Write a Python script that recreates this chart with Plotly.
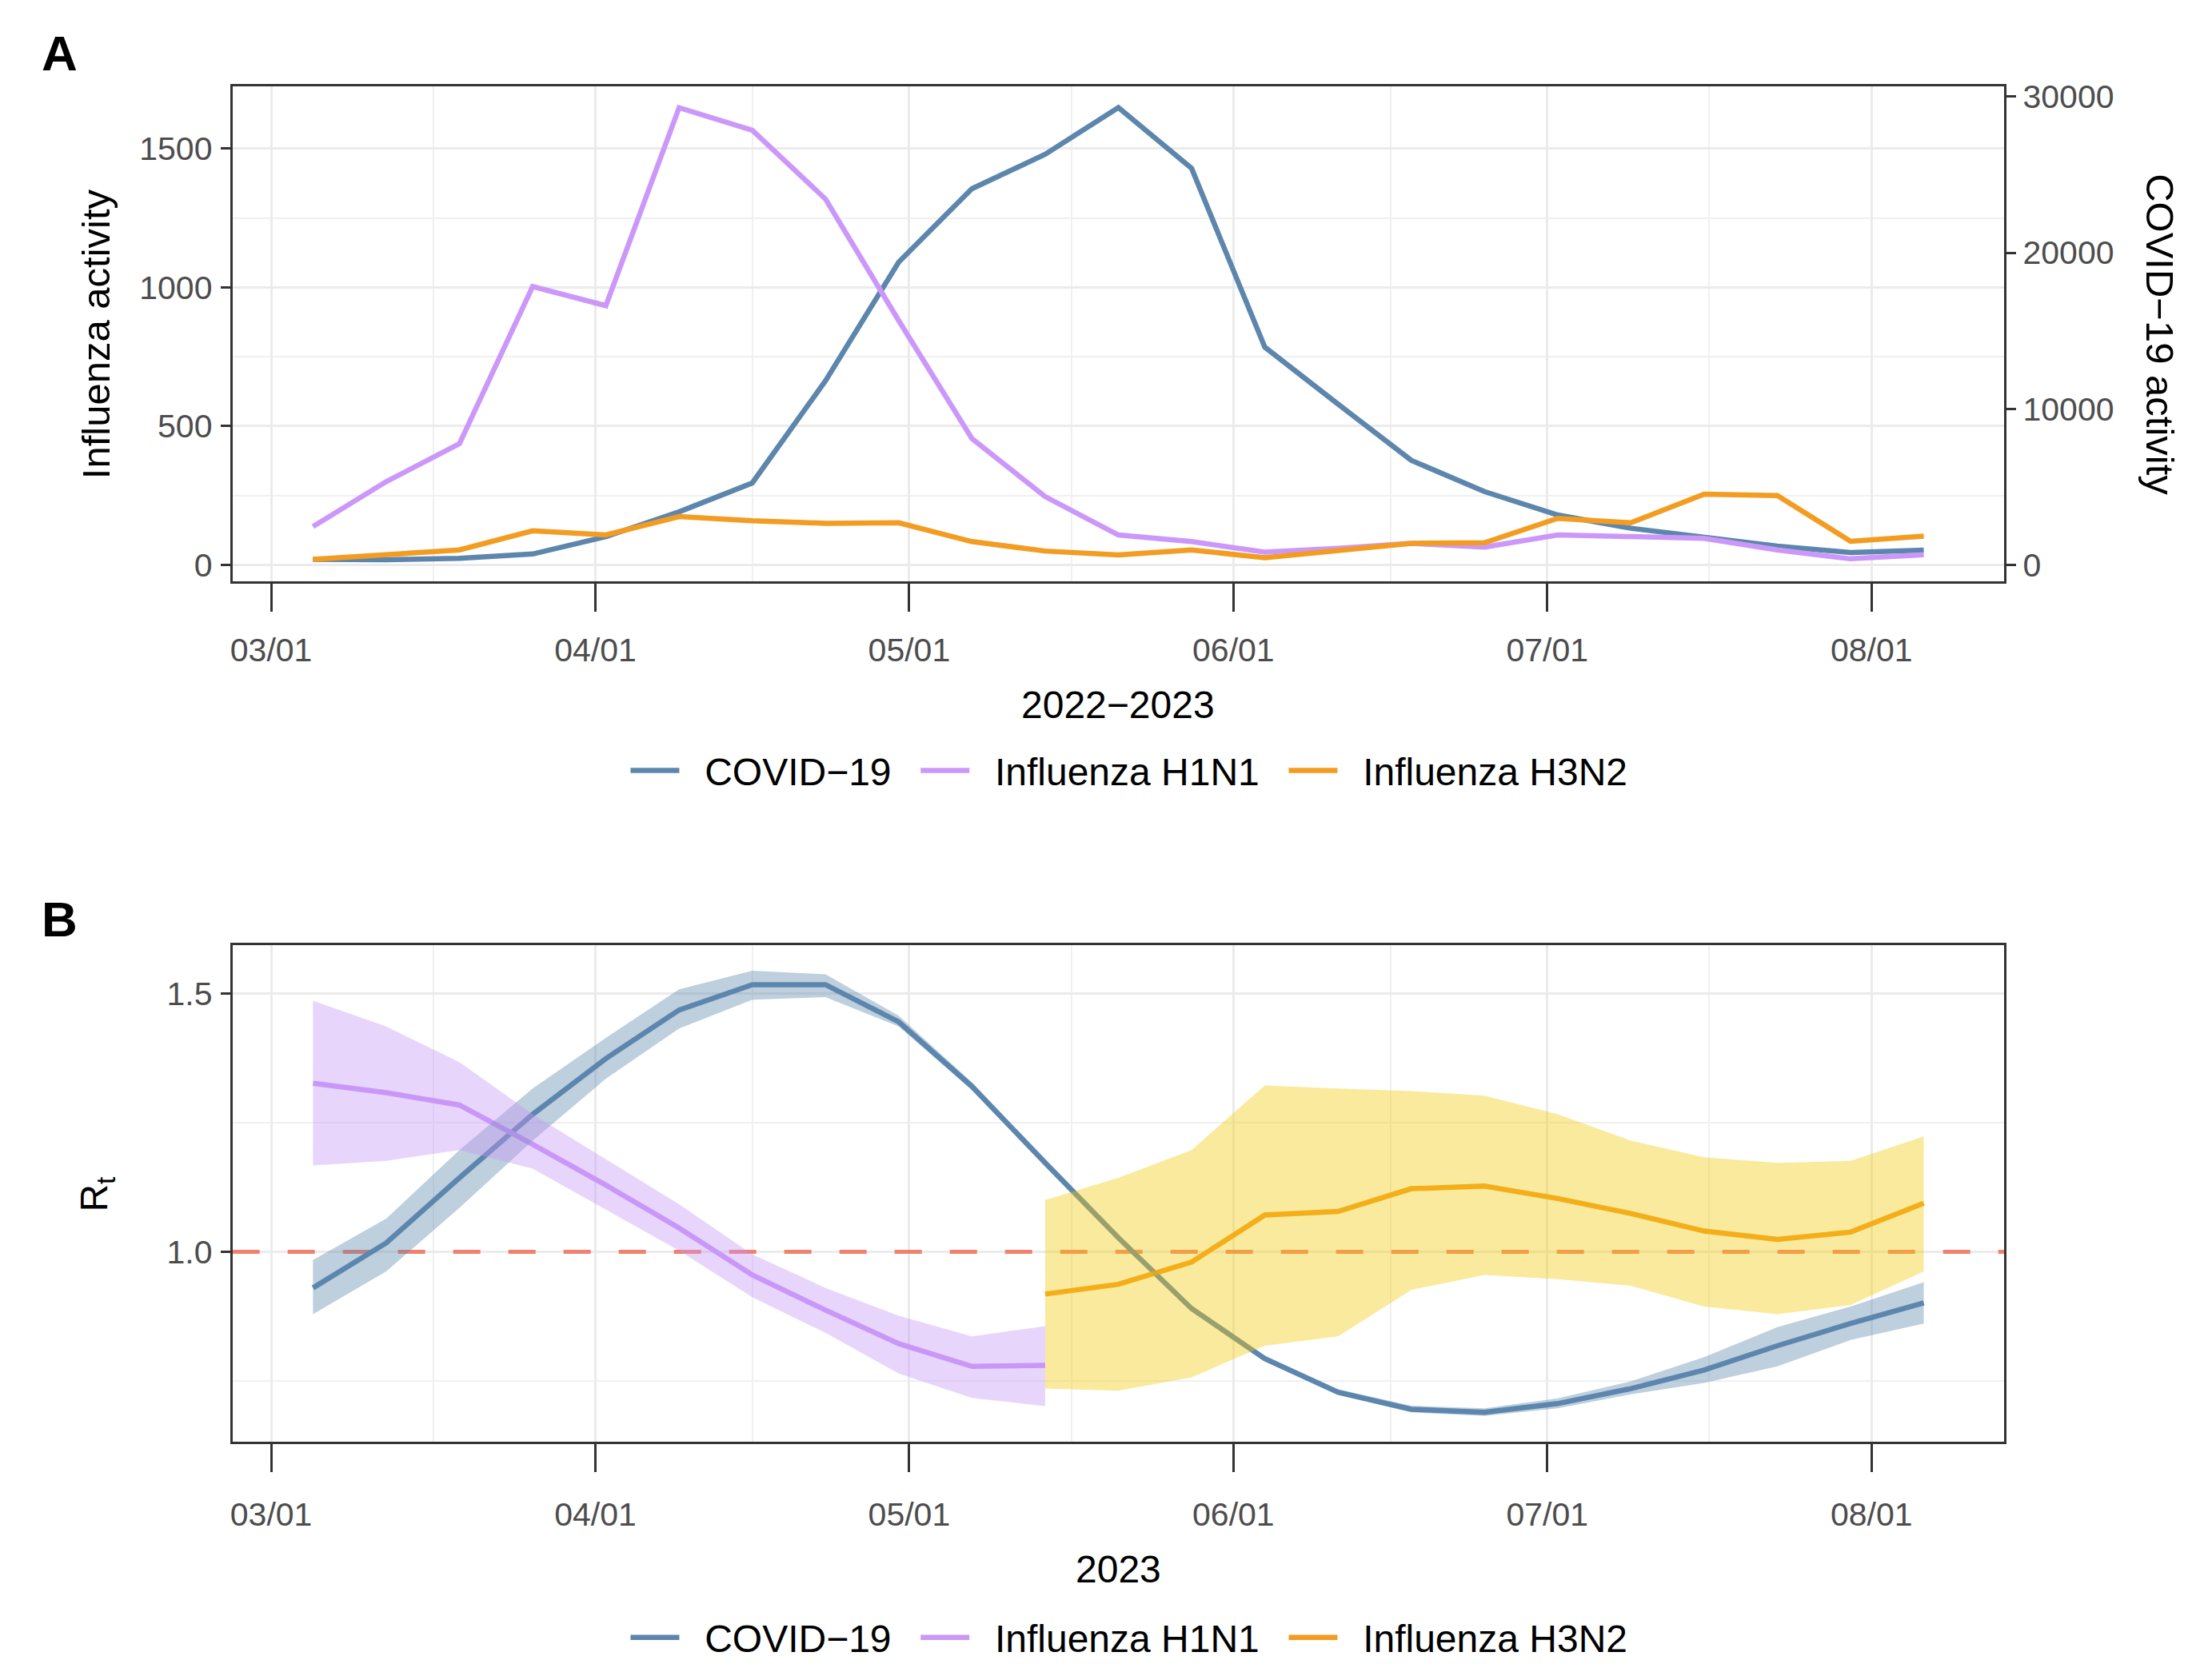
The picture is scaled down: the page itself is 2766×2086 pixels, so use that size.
import pandas as pd
import plotly.graph_objects as go

# ---------------- data ----------------
dates = ["2023-03-05", "2023-03-12", "2023-03-19", "2023-03-26", "2023-04-02",
         "2023-04-09", "2023-04-16", "2023-04-23", "2023-04-30", "2023-05-07",
         "2023-05-14", "2023-05-21", "2023-05-28", "2023-06-04", "2023-06-11",
         "2023-06-18", "2023-06-25", "2023-07-02", "2023-07-09", "2023-07-16",
         "2023-07-23", "2023-07-30", "2023-08-06"]

covid_activity = [360, 330, 420, 700, 1810, 3400, 5250, 11800, 19400, 24100,
                  26300, 29300, 25400, 13950, 10300, 6700, 4700, 3200, 2350,
                  1750, 1200, 800, 950]
h1n1_activity = [138, 300, 437, 1003, 934, 1647, 1566, 1318, 880, 455, 246,
                 108, 84, 46, 60, 78, 64, 108, 102, 96, 54, 22, 37]
h3n2_activity = [20, 36, 54, 123, 108, 174, 159, 150, 152, 84, 50, 36, 54, 26,
                 54, 78, 80, 168, 152, 255, 250, 85, 104]

covid_rt = [0.930, 1.017, 1.143, 1.266, 1.374, 1.468, 1.517, 1.517, 1.445, 1.320,
            1.172, 1.027, 0.890, 0.793, 0.728, 0.695, 0.689, 0.706, 0.735, 0.771,
            0.818, 0.861, 0.901]
covid_rt_lo = [0.879, 0.962, 1.085, 1.215, 1.335, 1.432, 1.488, 1.493, 1.436, 1.313,
               1.165, 1.021, 0.885, 0.788, 0.723, 0.689, 0.682, 0.697, 0.724, 0.746,
               0.778, 0.829, 0.861]
covid_rt_hi = [0.984, 1.064, 1.197, 1.316, 1.414, 1.508, 1.544, 1.537, 1.457, 1.328,
               1.180, 1.034, 0.896, 0.799, 0.734, 0.702, 0.697, 0.716, 0.749, 0.796,
               0.854, 0.894, 0.941]

h1n1_dates = dates[:11]
h1n1_rt = [1.326, 1.308, 1.284, 1.208, 1.129, 1.046, 0.955, 0.887, 0.822, 0.778, 0.780]
h1n1_rt_lo = [1.167, 1.176, 1.197, 1.161, 1.082, 1.002, 0.912, 0.843, 0.764, 0.717, 0.701]
h1n1_rt_hi = [1.486, 1.436, 1.367, 1.266, 1.179, 1.092, 0.995, 0.930, 0.876, 0.836, 0.856]

h3n2_dates = dates[10:]
h3n2_rt = [0.918, 0.937, 0.980, 1.071, 1.078, 1.122, 1.127, 1.103, 1.074, 1.040,
           1.024, 1.038, 1.094]
h3n2_rt_lo = [0.735, 0.731, 0.757, 0.818, 0.836, 0.926, 0.955, 0.947, 0.934, 0.894,
              0.879, 0.897, 0.962]
h3n2_rt_hi = [1.100, 1.143, 1.197, 1.322, 1.316, 1.311, 1.302, 1.266, 1.215, 1.183,
              1.172, 1.176, 1.223]

rt_threshold = 1.0

month_ticks = ["2023-03-01", "2023-04-01", "2023-05-01", "2023-06-01",
               "2023-07-01", "2023-08-01"]
month_labels = ["03/01", "04/01", "05/01", "06/01", "07/01", "08/01"]
infl_ticks = [0, 500, 1000, 1500]
covid_ticks = [0, 10000, 20000, 30000]
rt_ticks = [1.0, 1.5]
series_names = ["COVID\u221219", "Influenza H1N1", "Influenza H3N2"]

# ---------------- style ----------------
W, H = 2766, 2086
FONT = "Liberation Sans, Arial, sans-serif"
C_COVID = "#5D86AD"
C_H1N1 = "#CB98FA"
C_H3N2 = "#F39C22"
F_COVID = "rgba(93,134,173,0.4)"
F_H1N1 = "rgba(197,150,245,0.4)"
F_H3N2 = "rgba(242,202,12,0.4)"
LW = 6.5
NB = "\u00a0\u00a0"

infl_range = [-59.5, 1723]
covid_per_infl = 17.78
covid_range = [v * covid_per_infl for v in infl_range]
x_range = ["2023-02-25 07:12", "2023-08-13 16:48"]
rt_range = [0.632, 1.593]

mt = pd.to_datetime(month_ticks)
minor_x = [str(a + (b - a) / 2) for a, b in zip(mt[:-1], mt[1:])]


def px_x(p):
    return p / W


def px_y(p):
    return 1 - p / H


def leg_name(s):
    return NB + s + NB


xdom = [px_x(288), px_x(2506)]
ydomA = [px_y(725.5), px_y(99.5)]
ydomB = [px_y(1814), px_y(1186)]

fig = go.Figure()

# ---------- Panel A ----------
fig.add_trace(go.Scatter(x=dates, y=covid_activity, mode="lines",
                         name=leg_name(series_names[0]),
                         line=dict(color=C_COVID, width=LW), xaxis="x", yaxis="y",
                         legend="legend"))
fig.add_trace(go.Scatter(x=dates, y=h1n1_activity, mode="lines",
                         name=leg_name(series_names[1]),
                         line=dict(color=C_H1N1, width=LW), xaxis="x", yaxis="y2",
                         legend="legend"))
fig.add_trace(go.Scatter(x=dates, y=h3n2_activity, mode="lines",
                         name=leg_name(series_names[2]),
                         line=dict(color=C_H3N2, width=LW), xaxis="x", yaxis="y2",
                         legend="legend"))

# ---------- Panel B ----------
# reference line Rt = 1 (drawn first so ribbons lie over it)
fig.add_trace(go.Scatter(x=x_range, y=[rt_threshold, rt_threshold], mode="lines",
                         line=dict(color="#F08070", width=5, dash="34px,35px"),
                         hoverinfo="skip", showlegend=False, xaxis="x2", yaxis="y3",
                         cliponaxis=True))

fig.add_trace(go.Scatter(x=dates, y=covid_rt, mode="lines",
                         name=leg_name(series_names[0]),
                         line=dict(color=C_COVID, width=LW), xaxis="x2", yaxis="y3",
                         legend="legend2"))
fig.add_trace(go.Scatter(x=h1n1_dates, y=h1n1_rt, mode="lines",
                         name=leg_name(series_names[1]),
                         line=dict(color=C_H1N1, width=LW), xaxis="x2", yaxis="y3",
                         legend="legend2"))
fig.add_trace(go.Scatter(x=h3n2_dates, y=h3n2_rt, mode="lines",
                         name=leg_name(series_names[2]),
                         line=dict(color=C_H3N2, width=LW), xaxis="x2", yaxis="y3",
                         legend="legend2"))

for d, lo, hi, fc in [(dates, covid_rt_lo, covid_rt_hi, F_COVID),
                      (h1n1_dates, h1n1_rt_lo, h1n1_rt_hi, F_H1N1),
                      (h3n2_dates, h3n2_rt_lo, h3n2_rt_hi, F_H3N2)]:
    fig.add_trace(go.Scatter(x=list(d) + list(d)[::-1], y=list(hi) + list(lo)[::-1],
                             mode="lines", fill="toself", fillcolor=fc,
                             line=dict(width=0, color=fc), hoverinfo="skip",
                             showlegend=False, xaxis="x2", yaxis="y3"))

tickfont = dict(family=FONT, size=41, color="#4D4D4D")
axis_common = dict(showline=True, linewidth=3, linecolor="#333333", zeroline=False,
                   ticks="outside", tickwidth=3, tickcolor="#333333", tickfont=tickfont)
grid_major = dict(showgrid=True, gridcolor="#EBEBEB", gridwidth=3)


def xaxis_def(anchor, standoff):
    return dict(domain=xdom, anchor=anchor, type="date", range=x_range,
                tickmode="array", tickvals=month_ticks, ticktext=month_labels,
                ticklen=35, ticklabelstandoff=standoff, mirror=True,
                minor=dict(tickmode="array", tickvals=minor_x, showgrid=True,
                           gridcolor="#F0F0F0", gridwidth=2, ticks=""),
                **grid_major, **axis_common)


fig.update_layout(
    width=W, height=H,
    margin=dict(l=0, r=0, t=0, b=0),
    paper_bgcolor="white", plot_bgcolor="white",
    font=dict(family=FONT, color="black"),
    xaxis=xaxis_def("y2", 13),
    yaxis=dict(domain=ydomA, anchor="x", side="right", range=covid_range,
               tickmode="array", tickvals=covid_ticks, tickformat="d", ticklen=12,
               ticklabelstandoff=0, showgrid=False, **axis_common),
    yaxis2=dict(domain=ydomA, anchor="x", side="left", overlaying="y", range=infl_range,
                tickmode="array", tickvals=infl_ticks, tickformat="d", ticklen=12,
                ticklabelstandoff=2,
                minor=dict(dtick=250, showgrid=True, gridcolor="#F0F0F0", gridwidth=2,
                           ticks=""),
                **grid_major, **axis_common),
    xaxis2=xaxis_def("y3", 18),
    yaxis3=dict(domain=ydomB, anchor="x2", range=rt_range, tickmode="array",
                tickvals=rt_ticks, tickformat=".1f", ticklen=12, ticklabelstandoff=2,
                mirror=True,
                minor=dict(dtick=0.25, tick0=0, showgrid=True, gridcolor="#F0F0F0",
                           gridwidth=2, ticks=""),
                **grid_major, **axis_common),
    legend=dict(orientation="h", x=px_x(1424), xanchor="center", y=px_y(965),
                yanchor="middle", font=dict(family=FONT, size=48, color="black"),
                itemwidth=61, bgcolor="rgba(0,0,0,0)", traceorder="normal"),
    legend2=dict(orientation="h", x=px_x(1424), xanchor="center", y=px_y(2062),
                 yanchor="middle", font=dict(family=FONT, size=48, color="black"),
                 itemwidth=61, bgcolor="rgba(0,0,0,0)", traceorder="normal"),
    showlegend=True,
)

ann = [
    dict(text="<b>A</b>", x=px_x(72), y=px_y(57), size=62, angle=0),
    dict(text="<b>B</b>", x=px_x(72), y=px_y(1153), size=62, angle=0),
    dict(text="Influenza activity", x=px_x(117), y=px_y(412), size=49, angle=-90),
    dict(text="COVID\u221219 activity", x=px_x(2701), y=px_y(413), size=49, angle=90),
    dict(text="2022\u22122023", x=px_x(1397), y=px_y(882), size=48, angle=0),
    dict(text="R<sub>t</sub>", x=px_x(118), y=px_y(1500), size=48, angle=-90),
    dict(text="2023", x=px_x(1397), y=px_y(1975), size=48, angle=0),
]
for a in ann:
    fig.add_annotation(text=a["text"], x=a["x"], y=a["y"], xref="paper", yref="paper",
                       xanchor="center", yanchor="middle", showarrow=False,
                       textangle=a["angle"],
                       font=dict(family=FONT, size=a["size"], color="black"))

fig.write_html("out.html",
               config={"displayModeBar": False},
               post_script="document.body.style.margin='0';"
                           "document.body.style.overflow='hidden';")
